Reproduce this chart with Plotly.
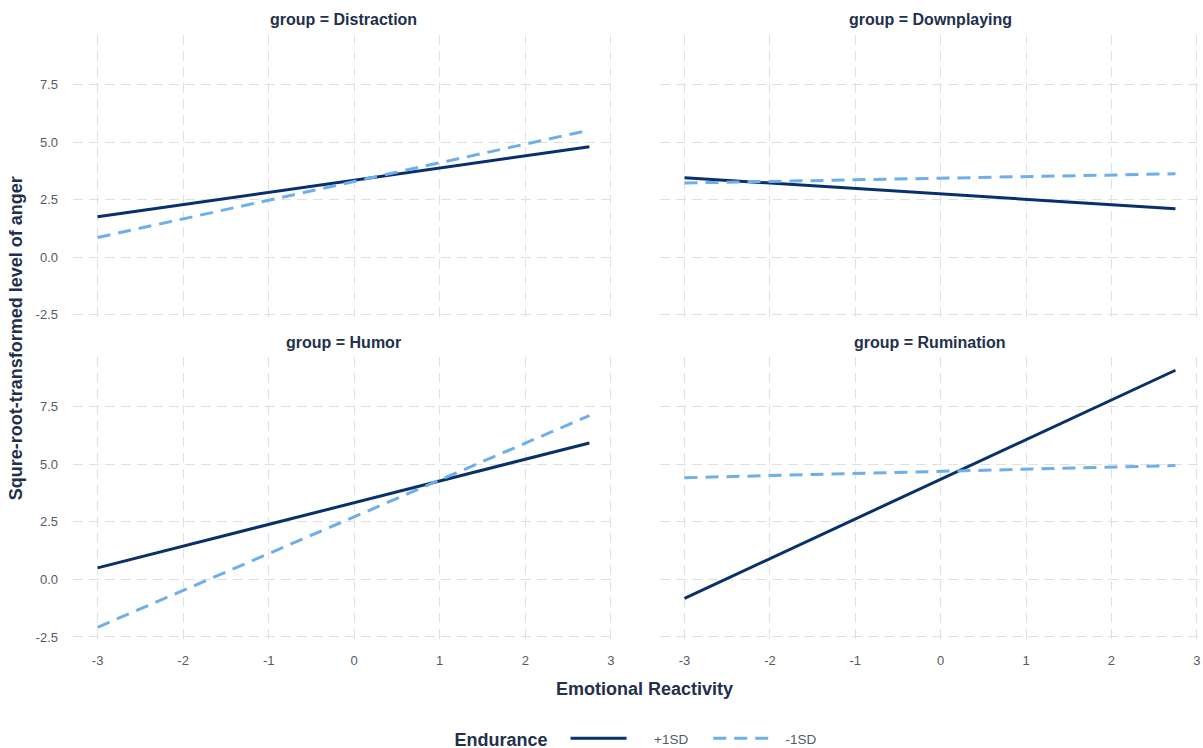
import plotly.graph_objects as go

# ---- data ----
groups = ["Distraction", "Downplaying", "Humor", "Rumination"]
x_vals = [-3, 2.75]
plus_1sd = {
    "Distraction": [1.75, 4.8],
    "Downplaying": [3.45, 2.1],
    "Humor": [0.5, 5.93],
    "Rumination": [-0.82, 9.09],
}
minus_1sd = {
    "Distraction": [0.85, 5.52],
    "Downplaying": [3.22, 3.62],
    "Humor": [-2.08, 7.12],
    "Rumination": [4.42, 4.95],
}
x_ticks = [-3, -2, -1, 0, 1, 2, 3]
y_ticks = [-2.5, 0.0, 2.5, 5.0, 7.5]
y_tick_labels = ["-2.5", "0.0", "2.5", "5.0", "7.5"]

W, H = 1203, 763  # slightly taller than the window so the legend sits low
FONT = "Liberation Sans, Arial, Helvetica, sans-serif"
DARK = "#08306b"
LIGHT = "#6eaeea"
TEXT_DARK = "#22304c"
TICK_GRAY = "#555a66"
GRID = "#e0e0e0"
NB = "\u00a0"

# panel pixel boxes (left, right, top, bottom)
panels = {
    "Distraction": (73, 614, 35, 320),
    "Downplaying": (660, 1200, 35, 320),
    "Humor": (73, 614, 359, 644),
    "Rumination": (660, 1200, 359, 644),
}

fig = go.Figure()
layout_axes = {}
annotations = []
for i, g in enumerate(groups):
    n = i + 1
    xa = "x" if n == 1 else f"x{n}"
    ya = "y" if n == 1 else f"y{n}"
    l, r, t, b = panels[g]
    show_first = (i == 0)
    fig.add_trace(go.Scatter(
        x=x_vals, y=plus_1sd[g], mode="lines", name=NB * 6 + "+1SD" + NB * 4,
        line=dict(color=DARK, width=3), xaxis=xa, yaxis=ya,
        legendgroup="p", showlegend=show_first))
    fig.add_trace(go.Scatter(
        x=x_vals, y=minus_1sd[g], mode="lines", name=NB * 3 + "-1SD",
        line=dict(color=LIGHT, width=3, dash="13px,8px"), xaxis=xa, yaxis=ya,
        legendgroup="m", showlegend=show_first))
    bottom_row = g in ("Humor", "Rumination")
    left_col = g in ("Distraction", "Humor")
    xkey = "xaxis" if n == 1 else f"xaxis{n}"
    ykey = "yaxis" if n == 1 else f"yaxis{n}"
    layout_axes[xkey] = dict(
        domain=[l / W, r / W], anchor=ya, range=[-3.2875, 3.0375],
        tickvals=x_ticks, ticktext=[str(v) for v in x_ticks],
        showticklabels=bottom_row, showgrid=True, gridcolor=GRID,
        griddash="10px,6px", gridwidth=1, zeroline=False, showline=False,
        ticks="", ticklabelstandoff=10,
        tickfont=dict(family=FONT, size=13, color=TICK_GRAY))
    layout_axes[ykey] = dict(
        domain=[(H - b) / H, (H - t) / H], anchor=xa, range=[-2.66, 9.66],
        tickvals=y_ticks, ticktext=y_tick_labels,
        showticklabels=left_col, showgrid=True, gridcolor=GRID,
        griddash="10px,6px", gridwidth=1, zeroline=False, showline=False,
        ticks="", ticklabelstandoff=14,
        tickfont=dict(family=FONT, size=13, color=TICK_GRAY))
    annotations.append(dict(
        text=f"<b>group = {g}</b>", x=(l + r) / 2 / W,
        y=(H - (t - 15)) / H, xref="paper", yref="paper",
        showarrow=False, xanchor="center", yanchor="middle",
        font=dict(family=FONT, size=16, color=TEXT_DARK)))

annotations.append(dict(
    text="<b>Emotional Reactivity</b>", x=644 / W, y=(H - 693) / H,
    xref="paper", yref="paper", showarrow=False,
    xanchor="center", yanchor="middle",
    font=dict(family=FONT, size=18, color=TEXT_DARK)))
annotations.append(dict(
    text="<b>Squre-root-transformed level of anger</b>", x=16 / W,
    y=(H - 340) / H, xref="paper", yref="paper", showarrow=False,
    xanchor="center", yanchor="middle", textangle=-90,
    font=dict(family=FONT, size=18, color=TEXT_DARK)))

fig.update_layout(
    width=W, height=H, autosize=False,
    margin=dict(l=0, r=0, t=0, b=0),
    paper_bgcolor="white", plot_bgcolor="white",
    annotations=annotations,
    showlegend=True,
    legend=dict(
        orientation="h", x=637 / W, y=2 / H, xanchor="center", yanchor="bottom",
        title=dict(text="<b>Endurance</b>  ",
                   font=dict(family=FONT, size=18, color=TEXT_DARK)),
        font=dict(family=FONT, size=13.5, color=TICK_GRAY),
        itemwidth=56, tracegroupgap=0, bgcolor="rgba(0,0,0,0)"),
    **layout_axes,
)

fig.write_html(
    "out.html",
    config={"displayModeBar": False},
    post_script=("document.body.style.margin='0px';"
                 "document.body.style.padding='0px';"
                 "document.body.style.overflow='hidden';"
                 "document.documentElement.style.overflow='hidden';"),
)
